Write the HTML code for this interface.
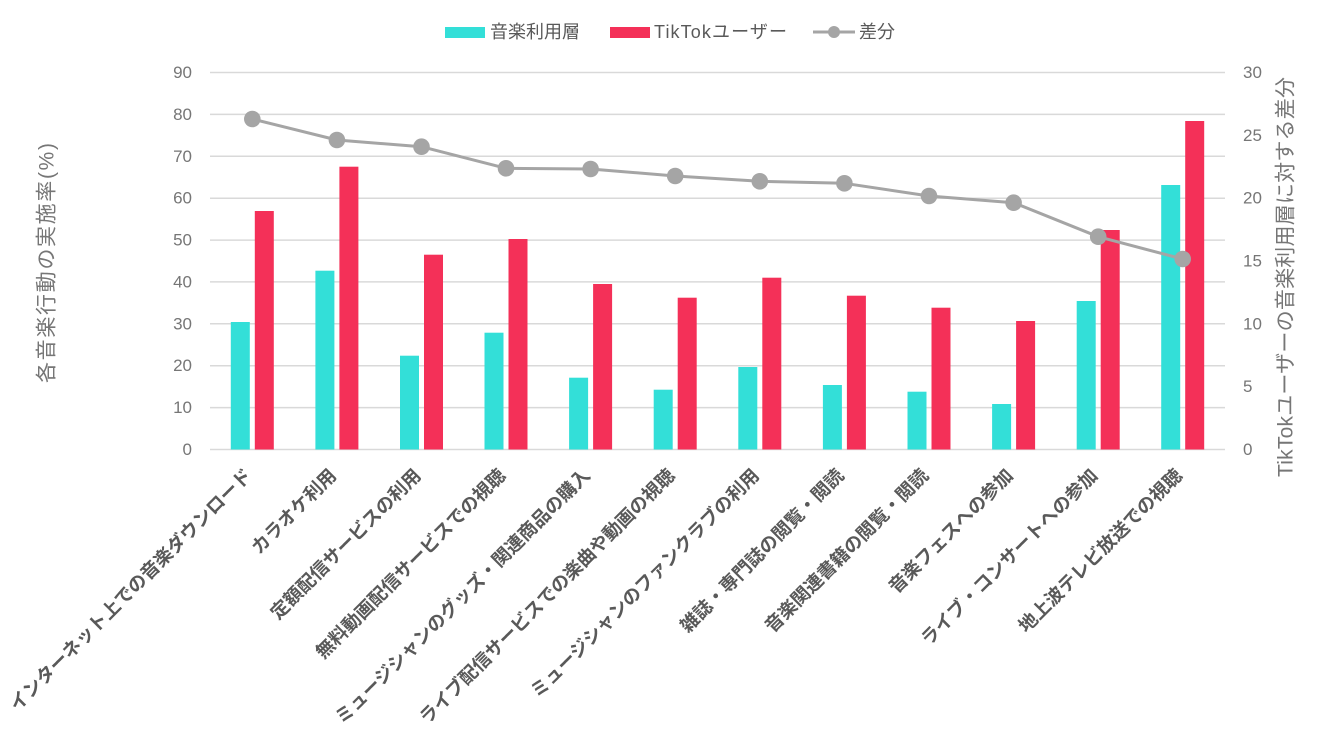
<!DOCTYPE html>
<html><head><meta charset="utf-8"><style>
html,body{margin:0;padding:0;background:#fff;}
svg{display:block;}
.tk{font-family:"Liberation Sans","Noto Sans CJK JP",sans-serif;font-size:17px;fill:#767676;}
.lg{font-family:"Liberation Sans","Noto Sans CJK JP",sans-serif;font-size:18px;fill:#595959;}
.cat{font-family:"Liberation Sans","Noto Sans CJK JP",sans-serif;font-size:18.5px;font-weight:bold;fill:#595959;}
.ttl{font-family:"Liberation Sans","Noto Sans CJK JP",sans-serif;font-size:21px;fill:#767676;}
</style></head><body>
<svg width="1329" height="747" viewBox="0 0 1329 747" xmlns="http://www.w3.org/2000/svg">
<rect width="1329" height="747" fill="#fff"/>
<!-- gridlines -->
<g stroke="#D9D9D9" stroke-width="1.5">
<line x1="210" x2="1225" y1="72.5" y2="72.5"/>
<line x1="210" x2="1225" y1="114.4" y2="114.4"/>
<line x1="210" x2="1225" y1="156.3" y2="156.3"/>
<line x1="210" x2="1225" y1="198.2" y2="198.2"/>
<line x1="210" x2="1225" y1="240.1" y2="240.1"/>
<line x1="210" x2="1225" y1="281.9" y2="281.9"/>
<line x1="210" x2="1225" y1="323.8" y2="323.8"/>
<line x1="210" x2="1225" y1="365.7" y2="365.7"/>
<line x1="210" x2="1225" y1="407.6" y2="407.6"/>
<line x1="210" x2="1225" y1="449.5" y2="449.5"/>
</g>
<!-- left ticks -->
<g class="tk" text-anchor="end" dominant-baseline="central">
<text x="192" y="72.5">90</text>
<text x="192" y="114.4">80</text>
<text x="192" y="156.3">70</text>
<text x="192" y="198.2">60</text>
<text x="192" y="240.1">50</text>
<text x="192" y="281.9">40</text>
<text x="192" y="323.8">30</text>
<text x="192" y="365.7">20</text>
<text x="192" y="407.6">10</text>
<text x="192" y="449.5">0</text>
</g>
<!-- right ticks -->
<g class="tk" text-anchor="start" dominant-baseline="central">
<text x="1243" y="72.5">30</text>
<text x="1243" y="135.3">25</text>
<text x="1243" y="198.2">20</text>
<text x="1243" y="261">15</text>
<text x="1243" y="323.8">10</text>
<text x="1243" y="386.7">5</text>
<text x="1243" y="449.5">0</text>
</g>
<!-- bars cyan -->
<g fill="#33DFD8">
<rect x="230.8" y="322" width="19" height="127.5"/>
<rect x="315.4" y="270.7" width="19" height="178.8"/>
<rect x="400" y="355.7" width="19" height="93.8"/>
<rect x="484.5" y="332.7" width="19" height="116.8"/>
<rect x="569.1" y="377.7" width="19" height="71.8"/>
<rect x="653.7" y="389.7" width="19" height="59.8"/>
<rect x="738.3" y="367" width="19" height="82.5"/>
<rect x="822.9" y="385" width="19" height="64.5"/>
<rect x="907.5" y="391.7" width="19" height="57.8"/>
<rect x="992.1" y="404" width="19" height="45.5"/>
<rect x="1076.7" y="301" width="19" height="148.5"/>
<rect x="1161.2" y="185" width="19" height="264.5"/>
</g>
<!-- bars red -->
<g fill="#F43058">
<rect x="254.8" y="211" width="19" height="238.5"/>
<rect x="339.4" y="166.7" width="19" height="282.8"/>
<rect x="424" y="254.7" width="19" height="194.8"/>
<rect x="508.5" y="239" width="19" height="210.5"/>
<rect x="593.1" y="284" width="19" height="165.5"/>
<rect x="677.7" y="297.7" width="19" height="151.8"/>
<rect x="762.3" y="277.7" width="19" height="171.8"/>
<rect x="846.9" y="295.7" width="19" height="153.8"/>
<rect x="931.5" y="307.7" width="19" height="141.8"/>
<rect x="1016.1" y="321" width="19" height="128.5"/>
<rect x="1100.7" y="230" width="19" height="219.5"/>
<rect x="1185.2" y="121" width="19" height="328.5"/>
</g>
<!-- line -->
<polyline fill="none" stroke="#A5A5A5" stroke-width="3" stroke-linejoin="round"
points="252.3,119 336.9,140 421.5,146.7 506,168.3 590.6,169 675.2,176 759.8,181.3 844.4,183.3 929,196 1013.6,202.7 1098.2,236.7 1182.7,259"/>
<g fill="#A5A5A5">
<circle cx="252.3" cy="119" r="8.3"/>
<circle cx="336.9" cy="140" r="8.3"/>
<circle cx="421.5" cy="146.7" r="8.3"/>
<circle cx="506" cy="168.3" r="8.3"/>
<circle cx="590.6" cy="169" r="8.3"/>
<circle cx="675.2" cy="176" r="8.3"/>
<circle cx="759.8" cy="181.3" r="8.3"/>
<circle cx="844.4" cy="183.3" r="8.3"/>
<circle cx="929" cy="196" r="8.3"/>
<circle cx="1013.6" cy="202.7" r="8.3"/>
<circle cx="1098.2" cy="236.7" r="8.3"/>
<circle cx="1182.7" cy="259" r="8.3"/>
</g>
<!-- category labels -->
<g class="cat" text-anchor="end" dominant-baseline="central">
<text transform="translate(248.3,472) rotate(-45)">インターネット上での音楽ダウンロード</text>
<text transform="translate(332.9,472) rotate(-45)">カラオケ利用</text>
<text transform="translate(417.5,472) rotate(-45)">定額配信サービスの利用</text>
<text transform="translate(502,472) rotate(-45)">無料動画配信サービスでの視聴</text>
<text transform="translate(586.6,472) rotate(-45)">ミュージシャンのグッズ・関連商品の購入</text>
<text transform="translate(671.2,472) rotate(-45)">ライブ配信サービスでの楽曲や動画の視聴</text>
<text transform="translate(755.8,472) rotate(-45)">ミュージシャンのファンクラブの利用</text>
<text transform="translate(840.4,472) rotate(-45)">雑誌・専門誌の閲覧・閲読</text>
<text transform="translate(925,472) rotate(-45)">音楽関連書籍の閲覧・閲読</text>
<text transform="translate(1009.6,472) rotate(-45)">音楽フェスへの参加</text>
<text transform="translate(1094.2,472) rotate(-45)">ライブ・コンサートへの参加</text>
<text transform="translate(1178.7,472) rotate(-45)">地上波テレビ放送での視聴</text>
</g>
<!-- axis titles -->
<text class="ttl" text-anchor="middle" dominant-baseline="central" transform="translate(47,263) rotate(-90)" textLength="240" lengthAdjust="spacing">各音楽行動の実施率(%)</text>
<text class="ttl" text-anchor="middle" dominant-baseline="central" transform="translate(1286,277) rotate(-90)" textLength="400" lengthAdjust="spacing">TikTokユーザーの音楽利用層に対する差分</text>
<!-- legend -->
<rect x="445" y="27" width="40" height="11" fill="#33DFD8"/>
<text class="lg" x="490" y="32" dominant-baseline="central">音楽利用層</text>
<rect x="610" y="27" width="40" height="11" fill="#F43058"/>
<text class="lg" x="654" y="32" dominant-baseline="central" textLength="133" lengthAdjust="spacing">TikTokユーザー</text>
<line x1="813" x2="855" y1="32" y2="32" stroke="#A5A5A5" stroke-width="3"/>
<circle cx="834" cy="32" r="6" fill="#A5A5A5"/>
<text class="lg" x="859" y="32" dominant-baseline="central">差分</text>
</svg>
</body></html>
